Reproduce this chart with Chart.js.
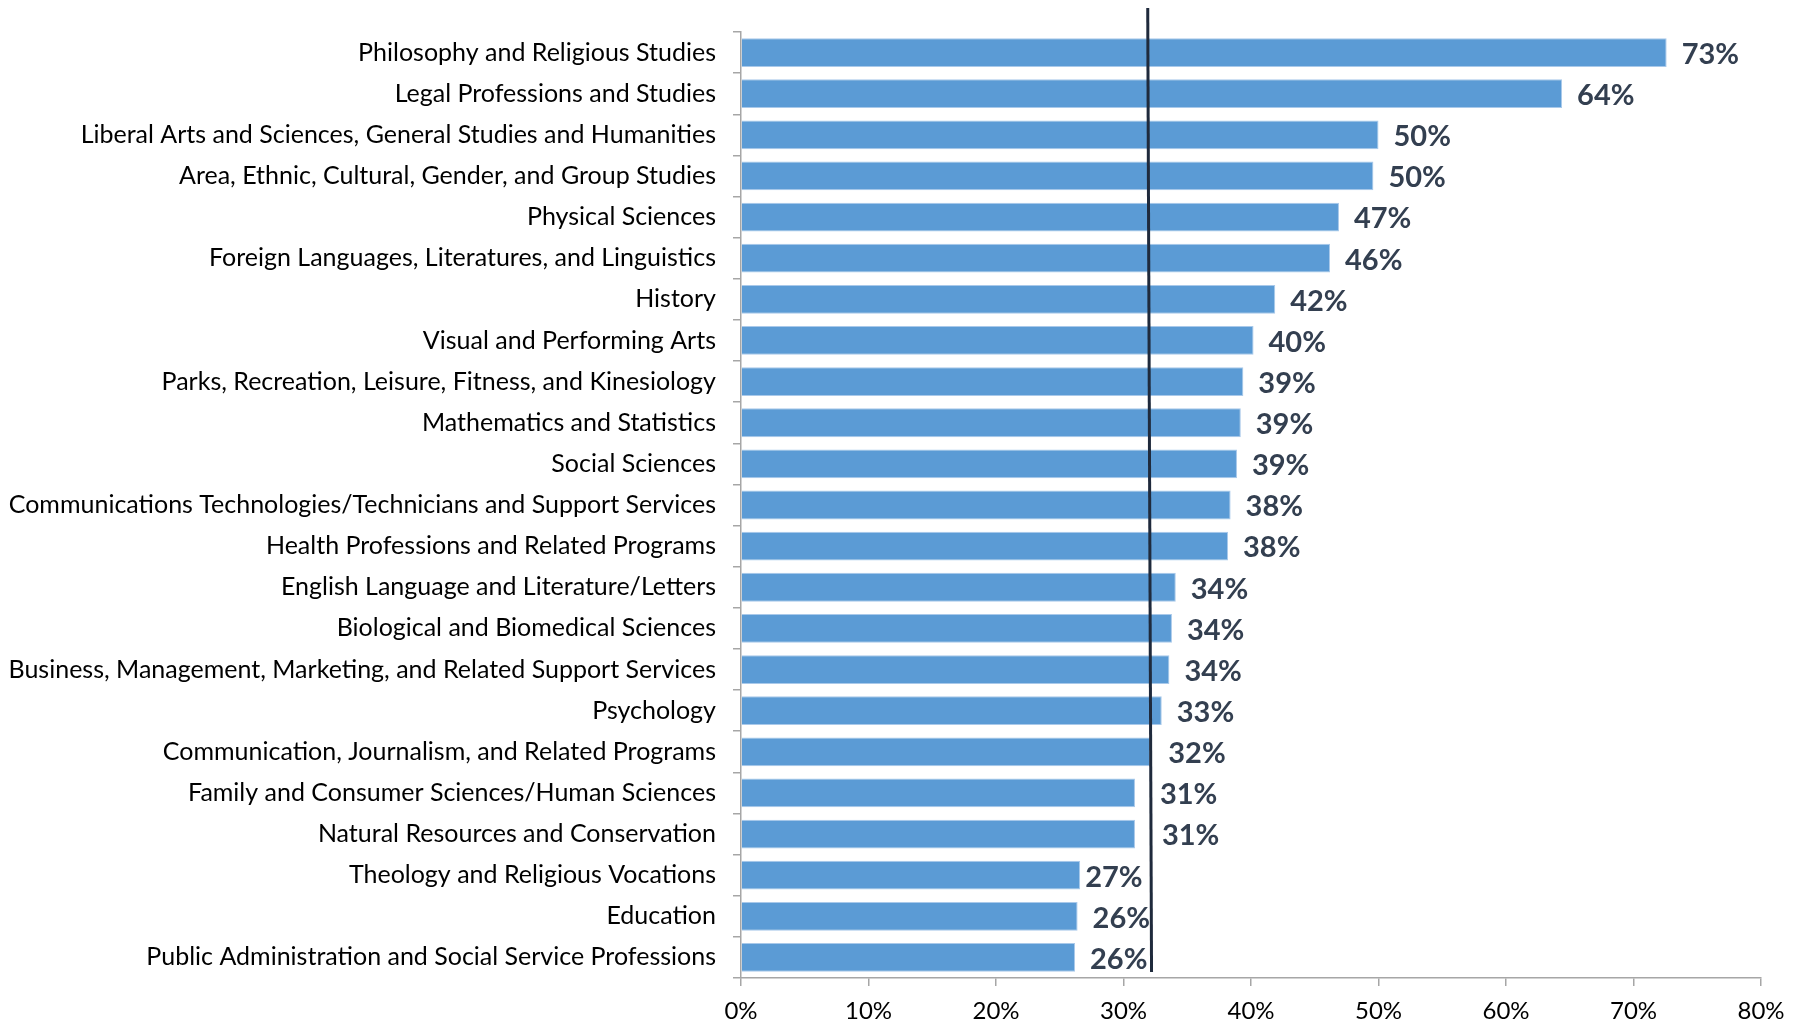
<!DOCTYPE html>
<html>
<head>
<meta charset="utf-8">
<script src="https://cdn.jsdelivr.net/npm/chart.js@4"></script>
<style>
  body { margin: 0; background: #fff; }
  #wrap { width: 1804px; height: 1026px; position: relative; }
</style>
</head>
<body>
<div id="wrap"><canvas id="myChart"></canvas></div>
<script>
const categories = [
  'Philosophy and Religious Studies',
  'Legal Professions and Studies',
  'Liberal Arts and Sciences, General Studies and Humanities',
  'Area, Ethnic, Cultural, Gender, and Group Studies',
  'Physical Sciences',
  'Foreign Languages, Literatures, and Linguistics',
  'History',
  'Visual and Performing Arts',
  'Parks, Recreation, Leisure, Fitness, and Kinesiology',
  'Mathematics and Statistics',
  'Social Sciences',
  'Communications Technologies/Technicians and Support Services',
  'Health Professions and Related Programs',
  'English Language and Literature/Letters',
  'Biological and Biomedical Sciences',
  'Business, Management, Marketing, and Related Support Services',
  'Psychology',
  'Communication, Journalism, and Related Programs',
  'Family and Consumer Sciences/Human Sciences',
  'Natural Resources and Conservation',
  'Theology and Religious Vocations',
  'Education',
  'Public Administration and Social Service Professions'
];
const values = [72.6, 64.4, 50.0, 49.6, 46.9, 46.2, 41.9, 40.2, 39.4, 39.2, 38.9, 38.4, 38.2,
                34.1, 33.8, 33.6, 33.0, 32.1, 30.9, 30.9, 26.6, 26.4, 26.2];
const xTicks = [0, 10, 20, 30, 40, 50, 60, 70, 80];
// the black vertical reference line (slightly tilted in the original)
const refLineTop = 31.9;
const refLineBottom = 32.2;

const ctx = document.getElementById('myChart');

// some labels were nudged by hand in the original so they clear the line
const labelNudge = { 17: 3, 18: 10, 19: 12, 20: -10 };

const labelPlugin = {
  id: 'barLabels',
  afterDatasetsDraw(chart) {
    const c = chart.ctx;
    const meta = chart.getDatasetMeta(0);
    c.save();
    c.font = 'bold 29px Lato';
    c.fillStyle = '#333f50';
    c.textAlign = 'left';
    c.textBaseline = 'middle';
    meta.data.forEach((bar, i) => {
      const dx = 15 + (labelNudge[i] || 0);
      c.fillText(Math.round(values[i]) + '%', bar.x + dx, bar.y + 2);
    });
    // reference line
    const xs = chart.scales.x;
    const area = chart.chartArea;
    c.strokeStyle = '#1f2a3c';
    c.lineWidth = 3;
    c.beginPath();
    c.moveTo(xs.getPixelForValue(refLineTop), area.top - 24);
    c.lineTo(xs.getPixelForValue(refLineBottom), area.bottom - 6);
    c.stroke();
    c.restore();
  }
};

new Chart(ctx, {
  type: 'bar',
  data: {
    labels: categories,
    datasets: [{
      data: values,
      backgroundColor: '#5b9bd5',
      borderColor: '#a9c9ea',
      borderWidth: 1,
      barPercentage: 0.7,
      categoryPercentage: 1.0
    }]
  },
  options: {
    indexAxis: 'y',
    responsive: true,
    maintainAspectRatio: false,
    animation: false,
    layout: { padding: { top: 32, right: 43, left: 0, bottom: 0 } },
    plugins: {
      legend: { display: false },
      tooltip: { enabled: false }
    },
    scales: {
      x: {
        min: 0,
        max: 80,
        afterFit(scale) { scale.height = 48; },
        afterBuildTicks(scale) { scale.ticks = xTicks.map(v => ({ value: v })); },
        border: { display: true, color: '#a6a6a6', width: 1.5 },
        grid: { drawOnChartArea: false, drawTicks: true, tickLength: 8, color: '#a6a6a6', lineWidth: 1.5 },
        ticks: {
          padding: 11,
          color: '#000',
          font: { family: 'Lato', size: 24 },
          callback: v => v + '%'
        }
      },
      y: {
        afterFit(scale) { scale.width = 741; },
        border: { display: true, color: '#a6a6a6', width: 1.5 },
        grid: { drawOnChartArea: false, drawTicks: true, tickLength: 8, color: '#a6a6a6', lineWidth: 1.5 },
        ticks: {
          padding: 17,
          color: '#000',
          autoSkip: false,
          font: { family: 'Lato', size: 25 }
        }
      }
    }
  },
  plugins: [labelPlugin]
});
</script>
</body>
</html>
